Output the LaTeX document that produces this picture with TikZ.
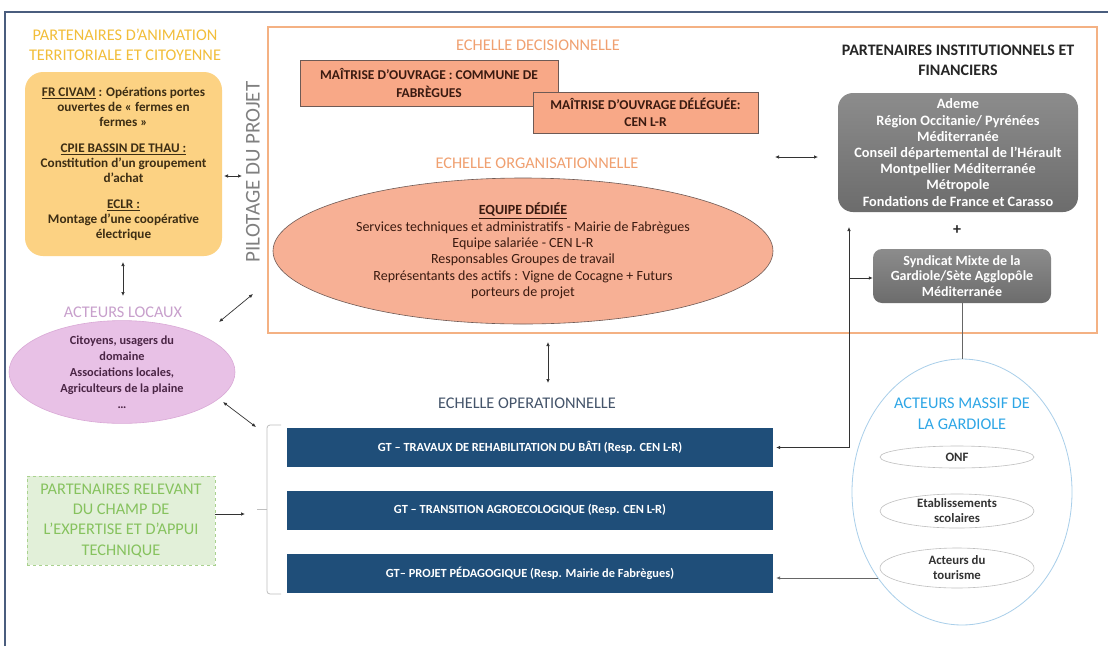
\documentclass[tikz,border=0pt]{standalone}
\usepackage{fontspec}
\setmainfont{Carlito}
\usetikzlibrary{arrows.meta,shapes.geometric}
\definecolor{frameblue}{HTML}{4A5D7E}
\definecolor{ytitle}{HTML}{F2BE3A}
\definecolor{yfill}{HTML}{FCD283}
\definecolor{ytext}{HTML}{3D2E14}
\definecolor{pilgray}{HTML}{808080}
\definecolor{ptitle}{HTML}{C8A0CC}
\definecolor{pfill}{HTML}{E8C1E6}
\definecolor{pdraw}{HTML}{D9A9D6}
\definecolor{ptext}{HTML}{4A2545}
\definecolor{oframe}{HTML}{F4B183}
\definecolor{otitle}{HTML}{F0A070}
\definecolor{sfill}{HTML}{F8A887}
\definecolor{efill}{HTML}{F7B095}
\definecolor{sdraw}{HTML}{6E5A55}
\definecolor{stext}{HTML}{3A1A10}
\definecolor{gtop}{HTML}{8C8C8C}
\definecolor{gbot}{HTML}{6C6C6C}
\definecolor{barblue}{HTML}{1F4E79}
\definecolor{gfill}{HTML}{E2F0D9}
\definecolor{gdraw}{HTML}{A9D18E}
\definecolor{gtext}{HTML}{86C25E}
\definecolor{btitle}{HTML}{2EA6E6}
\definecolor{bdraw}{HTML}{A9CFEA}
\definecolor{optext}{HTML}{44546A}
\definecolor{brk}{HTML}{BFBFBF}
\begin{document}
\begin{tikzpicture}[x=1pt,y=-1pt,
  arr/.style={-{Latex[length=4pt,width=3.5pt]}, line width=0.7pt, black!80},
  darr/.style={{Latex[length=4pt,width=3.5pt]}-{Latex[length=4pt,width=3.5pt]}, line width=0.7pt, black!80},
  ttl/.style={align=center, inner sep=0pt, font=\fontsize{16.3}{20}\selectfont},
  ybox/.style={rounded corners=18pt, fill=yfill, text=ytext, align=center, inner sep=0pt,
     font=\bfseries\fontsize{13.2}{15}\selectfont},
  pell/.style={ellipse, fill=pfill, draw=pdraw, line width=0.6pt, text=ptext, align=center, inner sep=0pt,
     font=\bfseries\fontsize{12.3}{16}\selectfont},
  sbox/.style={fill=sfill, draw=sdraw, line width=0.6pt, text=stext, align=center, inner sep=0pt,
     font=\bfseries\fontsize{13.5}{18}\selectfont},
  oell/.style={ellipse, fill=efill, draw=sdraw, line width=0.6pt, text=stext, align=center, inner sep=0pt,
     font=\fontsize{14}{16.4}\selectfont},
  gbox/.style={rounded corners=15pt, top color=gtop, bottom color=gbot, text=white, align=center, inner sep=0pt,
     font=\bfseries\fontsize{14.3}{16.2}\selectfont},
  barbox/.style={fill=barblue, text=white, inner sep=0pt, minimum width=486pt, minimum height=39pt,
     font=\bfseries\fontsize{12.4}{14}\selectfont},
  sell/.style={ellipse, draw=black!25, fill=white, line width=0.6pt, text=black!80, align=center, inner sep=0pt,
     font=\bfseries\fontsize{12.8}{15}\selectfont, minimum width=154pt}
]
\useasboundingbox (0,0) rectangle (1108,646);
\fill[white] (0,0) rectangle (1108,646);
% outer frame
\draw[frameblue, line width=1.2pt] (5,646) -- (5,12) -- (1108,12);

% left top group
\node[ttl, text=ytitle] (ytit) at (125,45) {PARTENAIRES D'ANIMATION\\TERRITORIALE ET CITOYENNE};
\node[ybox, minimum width=197pt, minimum height=184pt] (yb) at (123.5,164) {%
\underline{FR CIVAM} : Opérations portes\\ouvertes de « fermes en\\fermes »\\[11pt]%
\underline{CPIE BASSIN DE THAU :}\\Constitution d'un groupement\\d'achat\\[11pt]%
\underline{ECLR :}\\Montage d'une coopérative\\électrique};
\node[rotate=90, text=pilgray, inner sep=0pt, font=\fontsize{21}{21}\selectfont] (pil) at (253,172) {PILOTAGE DU PROJET};
\coordinate (a1s) at (224,176);
\coordinate (a1e) at (242,176);
\draw[darr] (a1s) -- (a1e);

% acteurs locaux
\node[ttl, text=ptitle, font=\fontsize{16.3}{18}\selectfont] (acl) at (123,312) {ACTEURS LOCAUX};
\coordinate (a2s) at (123,262);
\coordinate (a2e) at (123,296);
\draw[darr] (a2s) -- (a2e);
\node[pell, minimum width=226pt, minimum height=90pt] (pe) at (122,372) {Citoyens, usagers du\\domaine\\Associations locales,\\Agriculteurs de la plaine\\…};
\coordinate (a3s) at (219,322);
\coordinate (a3e) at (253,294);
\draw[darr] (a3s) -- (a3e);
\coordinate (a4s) at (223,402);
\coordinate (a4e) at (256,427);
\draw[darr] (a4s) -- (a4e);

% orange frame
\node[draw=oframe, line width=1.5pt, minimum width=829pt, minimum height=306pt, inner sep=0pt] (ofr) at (682.5,180) {};
\node[ttl, text=otitle] (edec) at (538,45) {ECHELLE DECISIONNELLE};
\node[sbox, minimum width=258pt, minimum height=46pt] (mo1) at (429,83) {MAÎTRISE D'OUVRAGE : COMMUNE DE\\FABRÈGUES};
\node[sbox, minimum width=225pt, minimum height=41pt, font=\bfseries\fontsize{13.5}{17}\selectfont] (mo2) at (645.5,112.5) {MAÎTRISE D'OUVRAGE DÉLÉGUÉE:\\CEN L-R};
\node[ttl, text=otitle] (eorg) at (537,163) {ECHELLE ORGANISATIONNELLE};
\node[oell, minimum width=500pt, minimum height=146pt] (eq) at (523,251) {\textbf{\underline{EQUIPE DÉDIÉE}}\\Services techniques et administratifs - Mairie de Fabrègues\\Equipe salariée - CEN L-R\\Responsables Groupes de travail\\Représentants des actifs : Vigne de Cocagne + Futurs\\porteurs de projet};
\coordinate (a5s) at (775,157);
\coordinate (a5e) at (818,157);
\draw[darr] (a5s) -- (a5e);

% institutional partners
\node[ttl, text=black!85, font=\bfseries\fontsize{16}{20}\selectfont] (inst) at (958,60) {PARTENAIRES INSTITUTIONNELS ET\\FINANCIERS};
\node[gbox, minimum width=240pt, minimum height=119pt] (gb) at (958,152.5) {Ademe\\Région Occitanie/ Pyrénées\\Méditerranée\\Conseil départemental de l'Hérault\\Montpellier Méditerranée\\Métropole\\Fondations de France et Carasso};
\node[inner sep=0pt, text=black!85, font=\bfseries\fontsize{16}{16}\selectfont] (plus) at (957,230) {+};
\node[gbox, rounded corners=9pt, minimum width=178pt, minimum height=54pt, font=\bfseries\fontsize{14}{15.5}\selectfont] (syn) at (962,276) {Syndicat Mixte de la\\Gardiole/Sète Agglopôle\\Méditerranée};

% operational level
\coordinate (a6s) at (548,342);
\coordinate (a6e) at (548,383);
\draw[darr] (a6s) -- (a6e);
\node[ttl, text=optext] (eop) at (527,403) {ECHELLE OPERATIONNELLE};
\node[barbox] (b1) at (530,447.5) {GT – TRAVAUX DE REHABILITATION DU BÂTI (Resp. CEN L-R)};
\node[barbox] (b2) at (530,510) {GT – TRANSITION AGROECOLOGIQUE (Resp. CEN L-R)};
\node[barbox] (b3) at (530,573) {GT– PROJET PÉDAGOGIQUE (Resp. Mairie de Fabrègues)};
\draw[brk, line width=0.8pt, rounded corners=3pt] (281,425) -- (267,425) -- (267,594) -- (281,594);
\draw[brk, line width=0.8pt] (267,509) -- (257,509);

% expertise partners
\node[draw=gdraw, dashed, fill=gfill, text=gtext, align=center, inner sep=0pt, minimum width=188pt, minimum height=89pt,
  font=\fontsize{16.3}{20.3}\selectfont] (gx) at (121,520.5) {PARTENAIRES RELEVANT\\DU CHAMP DE\\L'EXPERTISE ET D'APPUI\\TECHNIQUE};
\coordinate (a7e) at (245,514);
\draw[arr] (gx.east |- a7e) -- (a7e);

% connectors to institutional
\coordinate (cj) at (849,447.5);
\coordinate (cup) at (849,227);
\coordinate (cb) at (849,278);
\draw[arr] (cj) -- (cup);
\draw[arr] (cb) -- (cb -| syn.west);
\draw[arr] (cj) -- ([xshift=3pt]b1.east);

% massif de la gardiole
\node[ellipse, draw=bdraw, line width=0.8pt, minimum width=220pt, minimum height=266pt, inner sep=0pt] (ge) at (962,492) {};
\draw[black!60, line width=0.7pt] (syn.south) -- (ge.north);
\node[ttl, text=btitle, font=\fontsize{16.3}{21}\selectfont] (gtit) at (962,413.5) {ACTEURS MASSIF DE\\LA GARDIOLE};
\node[sell, minimum height=22pt] (onf) at (957,457) {ONF};
\node[sell, minimum height=32pt] (eta) at (957,511) {Etablissements\\scolaires};
\node[sell, minimum height=40pt] (tour) at (957,568) {Acteurs du\\tourisme};
\coordinate (tl) at (878,578);
\draw[arr, black!60] (tl) -- ([xshift=3pt]tl -| b3.east);
\end{tikzpicture}
\end{document}
